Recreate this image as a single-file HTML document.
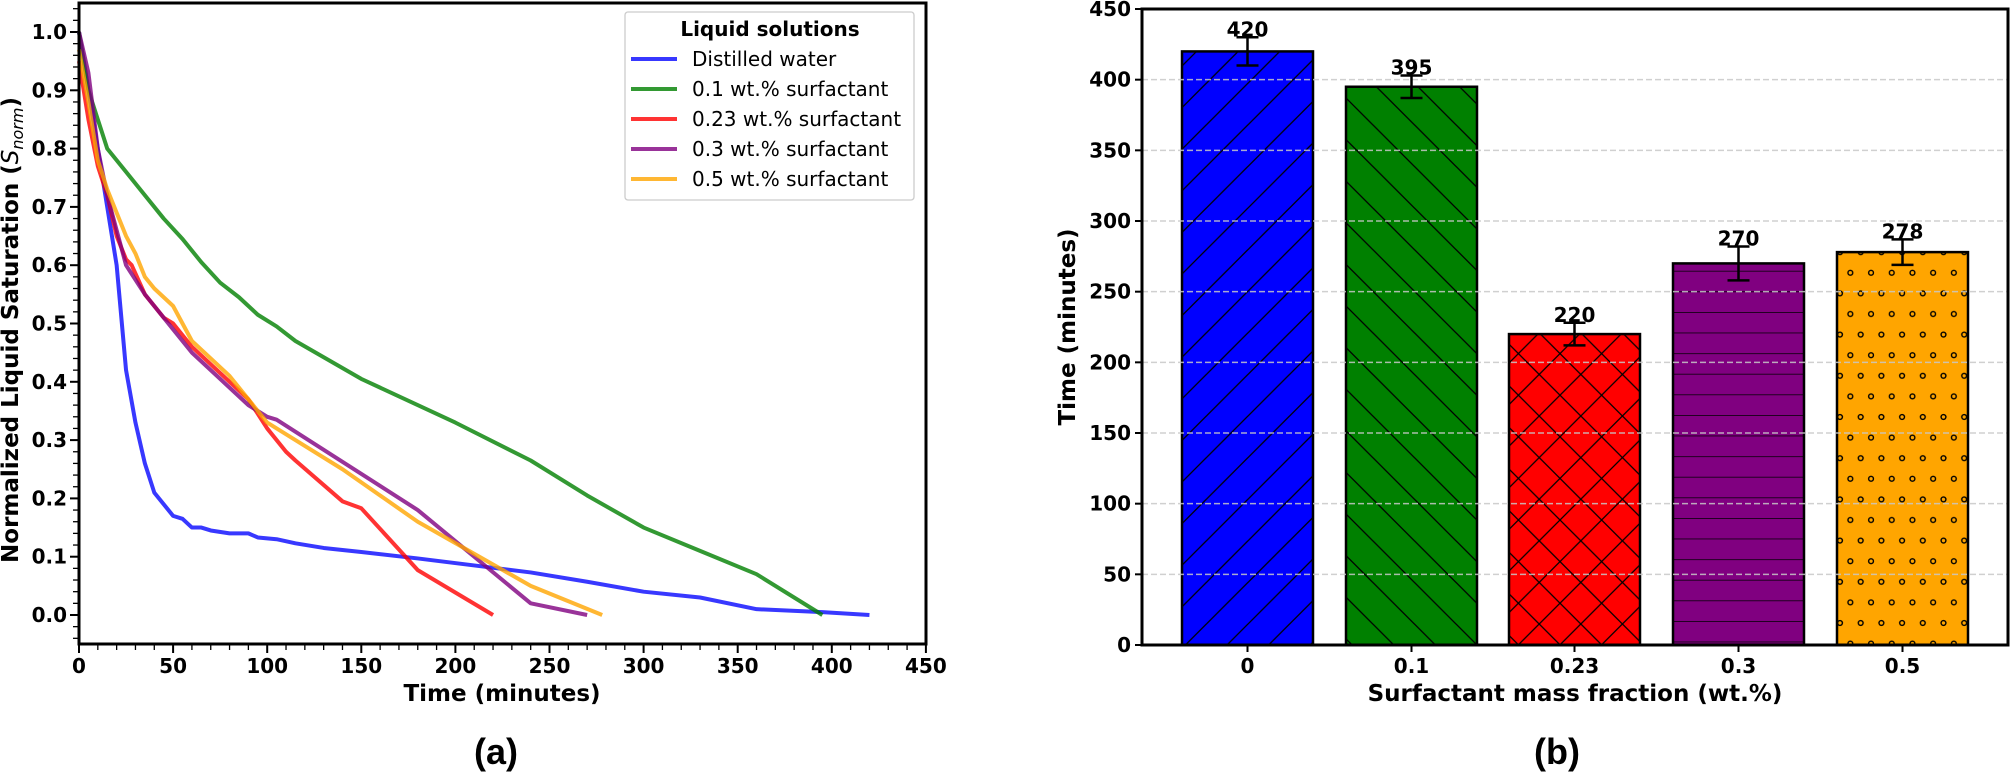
<!DOCTYPE html>
<html><head><meta charset="utf-8"><style>
html,body{margin:0;padding:0;background:#fff;width:2010px;height:773px;overflow:hidden}
svg text{font-family:"DejaVu Sans","Liberation Sans",sans-serif}
</style></head><body>
<svg id="s" width="2010" height="773" xmlns="http://www.w3.org/2000/svg">
<defs>
<pattern id="hb" patternUnits="userSpaceOnUse" width="41.6" height="41.6"><rect width="41.6" height="41.6" fill="#0000ff"/><path d="M-5,46.6 L46.6,-5" stroke="#000" stroke-width="1.3"/><path d="M-5,5 L5,-5 M36.6,46.6 L46.6,36.6" stroke="#000" stroke-width="1.3"/></pattern>
<pattern id="hg" patternUnits="userSpaceOnUse" width="41.6" height="41.6"><rect width="41.6" height="41.6" fill="#008000"/><path d="M-5,-5 L46.6,46.6 M36.6,-5 L46.6,5 M-5,36.6 L5,46.6" stroke="#000" stroke-width="1.3"/></pattern>
<pattern id="hr" patternUnits="userSpaceOnUse" width="41.6" height="41.6"><rect width="41.6" height="41.6" fill="#ff0000"/><path d="M-5,-5 L46.6,46.6 M-5,46.6 L46.6,-5 M36.6,-5 L46.6,5 M-5,36.6 L5,46.6 M-5,5 L5,-5 M36.6,46.6 L46.6,36.6" stroke="#000" stroke-width="1.3"/></pattern>
<pattern id="hp" patternUnits="userSpaceOnUse" width="41.6" height="20.6" y="3"><rect width="41.6" height="20.6" fill="#800080"/><path d="M0,0 H41.6" stroke="#000" stroke-width="1.5"/></pattern>
<pattern id="ho" patternUnits="userSpaceOnUse" width="20.7" height="41.2" x="1840" y="5"><rect width="20.7" height="41.2" fill="#ffa500"/><circle cx="0" cy="0" r="2.4" fill="none" stroke="#000" stroke-width="1.4"/><circle cx="20.7" cy="0" r="2.4" fill="none" stroke="#000" stroke-width="1.4"/><circle cx="10.35" cy="20.6" r="2.4" fill="none" stroke="#000" stroke-width="1.4"/><circle cx="0" cy="41.2" r="2.4" fill="none" stroke="#000" stroke-width="1.4"/><circle cx="20.7" cy="41.2" r="2.4" fill="none" stroke="#000" stroke-width="1.4"/></pattern>
</defs>
<g id="g"></g>
</svg>
<script>
const g=document.getElementById('g');let h='';
const X=t=>79+1.882*t, Y=s=>615-583*s;
for(let v=-0.04;v<=1.045;v+=0.02){const y=Y(v);h+=`<line x1="73" x2="79" y1="${y}" y2="${y}" stroke="#000" stroke-width="1.3"/>`;}
for(let i=0;i<=10;i++){const v=i/10,y=Y(v);h+=`<line x1="70" x2="79" y1="${y}" y2="${y}" stroke="#000" stroke-width="2"/><text x="67" y="${y+7}" text-anchor="end" font-size="20" font-weight="bold">${v.toFixed(1)}</text>`;}
for(let t=0;t<=450;t+=10){const x=X(t);const maj=t%50==0;h+=`<line x1="${x}" x2="${x}" y1="644" y2="${maj?653:650}" stroke="#000" stroke-width="${maj?2:1.3}"/>`;if(maj)h+=`<text x="${x}" y="673" text-anchor="middle" font-size="20" font-weight="bold">${t}</text>`;}
const D={
'rgba(0,0,255,0.78)':[[0,1],[5,0.9],[10,0.8],[15,0.7],[20,0.6],[25,0.42],[30,0.33],[35,0.26],[40,0.21],[50,0.17],[55,0.165],[60,0.15],[65,0.15],[70,0.145],[80,0.14],[90,0.14],[95,0.133],[105,0.13],[115,0.123],[130,0.115],[150,0.108],[180,0.097],[210,0.085],[240,0.073],[270,0.057],[300,0.04],[330,0.03],[360,0.01],[395,0.005],[420,0]],
'rgba(0,128,0,0.8)':[[0,1],[5,0.9],[10,0.85],[15,0.8],[25,0.76],[35,0.72],[45,0.68],[55,0.645],[65,0.605],[75,0.57],[85,0.545],[95,0.515],[105,0.495],[115,0.47],[150,0.405],[200,0.33],[240,0.265],[270,0.205],[300,0.15],[330,0.11],[360,0.07],[395,0]],
'rgba(255,0,0,0.8)':[[0,0.95],[5,0.85],[10,0.77],[15,0.72],[20,0.65],[25,0.61],[28,0.6],[35,0.55],[45,0.51],[50,0.5],[60,0.46],[70,0.43],[90,0.37],[100,0.32],[110,0.28],[115,0.265],[140,0.195],[150,0.183],[180,0.077],[220,0]],
'rgba(128,0,128,0.8)':[[0,1],[5,0.93],[10,0.8],[15,0.72],[20,0.66],[25,0.6],[35,0.55],[50,0.49],[60,0.45],[70,0.42],[80,0.39],[90,0.36],[100,0.34],[105,0.335],[180,0.18],[240,0.02],[270,0]],
'rgba(255,165,0,0.8)':[[0,0.97],[5,0.88],[10,0.78],[15,0.73],[20,0.69],[25,0.65],[30,0.62],[35,0.58],[40,0.56],[45,0.545],[50,0.53],[55,0.5],[60,0.47],[80,0.41],[90,0.37],[100,0.33],[120,0.29],[140,0.25],[180,0.16],[240,0.05],[278,0]]};
for(const c in D){h+=`<polyline fill="none" stroke="${c}" stroke-width="4" stroke-linejoin="round" points="${D[c].map(p=>X(p[0])+','+Y(p[1])).join(' ')}"/>`;}
h+=`<rect x="79" y="3" width="847" height="641" fill="none" stroke="#000" stroke-width="3"/>`;
h+=`<rect x="625" y="12" width="289" height="188" rx="3" fill="#fff" fill-opacity="0.8" stroke="#ccc" stroke-width="1.3"/><text x="770" y="36" text-anchor="middle" font-size="20" font-weight="bold">Liquid solutions</text>`;
const L=[['rgba(0,0,255,0.78)','Distilled water'],['rgba(0,128,0,0.8)','0.1 wt.% surfactant'],['rgba(255,0,0,0.8)','0.23 wt.% surfactant'],['rgba(128,0,128,0.8)','0.3 wt.% surfactant'],['rgba(255,165,0,0.8)','0.5 wt.% surfactant']];
L.forEach((l,i)=>{const y=59+30*i;h+=`<line x1="631" x2="677" y1="${y}" y2="${y}" stroke="${l[0]}" stroke-width="4"/><text x="692" y="${y+7}" font-size="20">${l[1]}</text>`;});
h+=`<text transform="translate(18,330) rotate(-90)" text-anchor="middle" font-size="23" font-weight="bold">Normalized Liquid Saturation (<tspan font-style="italic" font-weight="normal">S</tspan><tspan font-style="italic" font-weight="normal" font-size="16" dy="5">norm</tspan><tspan dy="-5">)</tspan></text>`;
h+=`<text x="502" y="701" text-anchor="middle" font-size="23" font-weight="bold">Time (minutes)</text>`;
h+=`<text x="496" y="764" text-anchor="middle" font-size="36" font-weight="bold" style="font-family:'Liberation Sans',sans-serif">(a)</text>`;
const YB=v=>645-1.4133*v;
const B=[[1182,420,10,'hb','0'],[1346,395,8,'hg','0.1'],[1509,220,8,'hr','0.23'],[1673,270,12,'hp','0.3'],[1837,278,9,'ho','0.5']];
B.forEach(b=>{const x=b[0],w=131,y=YB(b[1]);
h+=`<rect x="${x}" y="${y}" width="${w}" height="${645-y}" fill="url(#${b[3]})" stroke="#000" stroke-width="2.5"/>`;});
for(let v=0;v<=450;v+=50){const y=YB(v);if(v>0&&v<450)h+=`<line x1="1142" x2="2008" y1="${y}" y2="${y}" stroke="#c8c8c8" stroke-opacity="0.85" stroke-width="1.5" stroke-dasharray="6,3"/>`;
h+=`<line x1="1135" x2="1142" y1="${y}" y2="${y}" stroke="#000" stroke-width="2"/><text x="1131" y="${y+7}" text-anchor="end" font-size="20" font-weight="bold">${v}</text>`;}
B.forEach(b=>{const cx=b[0]+65.5,t=YB(b[1]+b[2]),bo=YB(b[1]-b[2]);
h+=`<line x1="${cx}" x2="${cx}" y1="${t}" y2="${bo}" stroke="#000" stroke-width="2.5"/><line x1="${cx-11}" x2="${cx+11}" y1="${t}" y2="${t}" stroke="#000" stroke-width="2.5"/><line x1="${cx-11}" x2="${cx+11}" y1="${bo}" y2="${bo}" stroke="#000" stroke-width="2.5"/>`;
h+=`<text x="${cx}" y="${t-1}" text-anchor="middle" font-size="20" font-weight="bold">${b[1]}</text>`;
h+=`<line x1="${cx}" x2="${cx}" y1="645" y2="652" stroke="#000" stroke-width="2"/><text x="${cx}" y="673" text-anchor="middle" font-size="20" font-weight="bold">${b[4]}</text>`;});
h+=`<rect x="1142" y="9" width="866" height="636" fill="none" stroke="#000" stroke-width="3"/>`;
h+=`<text x="1575" y="701" text-anchor="middle" font-size="23" font-weight="bold">Surfactant mass fraction (wt.%)</text>`;
h+=`<text transform="translate(1075,327) rotate(-90)" text-anchor="middle" font-size="23" font-weight="bold">Time (minutes)</text>`;
h+=`<text x="1557" y="764" text-anchor="middle" font-size="36" font-weight="bold" style="font-family:'Liberation Sans',sans-serif">(b)</text>`;
g.innerHTML=h;
</script>
</body></html>
